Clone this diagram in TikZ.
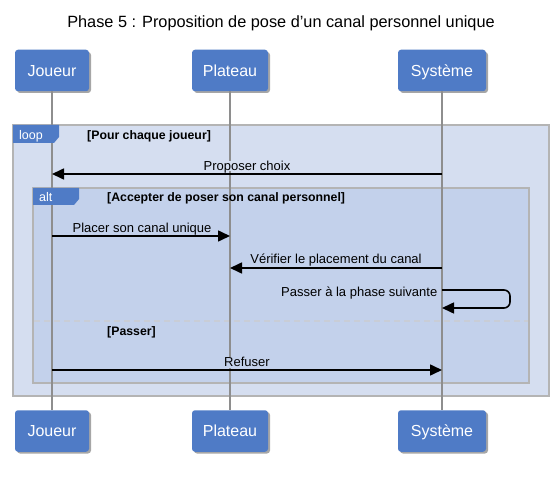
\documentclass[tikz,border=0pt]{standalone}
\usepackage{fontspec}
\setmainfont{Liberation Sans}
\usetikzlibrary{arrows.meta}
\definecolor{partblue}{HTML}{4F7BC6}
\definecolor{loopfill}{HTML}{D5DEF0}
\definecolor{altfill}{HTML}{C3D1EB}
\definecolor{framegray}{HTML}{B4B4B4}
\definecolor{lifegray}{HTML}{8E8E8E}
\definecolor{sepgray}{HTML}{C9CDD6}
\tikzset{
  part/.style={draw=none, fill=partblue, rounded corners=3pt, text=white,
    minimum height=41.5pt, inner sep=0pt, text height=11.5pt, text depth=0pt,
    font=\fontsize{16}{19}\selectfont},
  shadowbox/.style={fill=black, opacity=0.35, rounded corners=3pt},
  lifeline/.style={draw=lifegray, line width=1.5pt},
  frameline/.style={draw=framegray, line width=2pt},
  tab/.style={fill=partblue, draw=none},
  tabtext/.style={text=white, font=\fontsize{12.5}{15}\selectfont, anchor=base west, inner sep=0pt},
  guard/.style={font=\bfseries\fontsize{12.3}{15}\selectfont, anchor=base west, inner sep=0pt},
  msg/.style={draw=black, line width=1.6pt, -{Triangle[length=12pt,width=11pt]}},
  msglabel/.style={font=\fontsize{13}{15}\selectfont, inner xsep=1.5pt, inner ysep=0.5pt,
    text depth=0.5pt, anchor=base},
}
\begin{document}
\begin{tikzpicture}[x=1pt,y=-1pt]
\useasboundingbox (0,0) rectangle (559,478);
\fill[white] (0,0) rectangle (559,478);
% title
\node[anchor=base, inner sep=0pt] (title) at (281,27.7) {\fontsize{16.3}{19}\selectfont Phase 5 : Proposition de pose d'un canal personnel unique};
% frames
\filldraw[frameline, fill=loopfill] (13,125) rectangle (549,396);
\filldraw[frameline, fill=altfill] (33,188) rectangle (529,383);
\draw[sepgray, line width=1.2pt, dash pattern=on 6pt off 4pt] (34,321) -- (528,321);
% participant shadows
\foreach \x/\w in {52/74, 230/76, 442/88}{
  \fill[shadowbox] (\x-\w/2+2,52) rectangle (\x+\w/2+2,93);
  \fill[shadowbox] (\x-\w/2+2,412) rectangle (\x+\w/2+2,453.5);
}
% participants
\node[part, minimum width=74pt] (jT) at (52,70.5) {Joueur};
\node[part, minimum width=76pt] (pT) at (230,70.5) {Plateau};
\node[part, minimum width=88pt] (sT) at (442,70.5) {Système};
\node[part, minimum width=74pt] (jB) at (52,431) {Joueur};
\node[part, minimum width=76pt] (pB) at (230,431) {Plateau};
\node[part, minimum width=88pt] (sB) at (442,431) {Système};
% lifelines
\draw[lifeline] (jT.south) -- (jB.north);
\draw[lifeline] (pT.south) -- (pB.north);
\draw[lifeline] (sT.south) -- (sB.north);
% tabs and guards (above lifelines)
\fill[tab] (13,125) -- (59,125) -- (59,137) -- (54,143) -- (13,143) -- cycle;
\node[tabtext] (looplbl) at (19,139.5) {loop};
\node[guard] (loopguard) at (87,140) {[Pour chaque joueur]};
\fill[tab] (33,188) -- (79,188) -- (79,199) -- (74,205) -- (33,205) -- cycle;
\node[tabtext] (altlbl) at (39,201.5) {alt};
\node[guard] (altguard) at (107,202) {[Accepter de poser son canal personnel]};
\node[guard] (passguard) at (107,335) {[Passer]};
% message points
\coordinate (m1s) at (442,174); \coordinate (m1e) at (52,174);
\coordinate (m2s) at (52,236);  \coordinate (m2e) at (230,236);
\coordinate (m3s) at (442,268); \coordinate (m3e) at (230,268);
\coordinate (m4s) at (442,290); \coordinate (m4e) at (442,308);
\coordinate (m5s) at (52,370);  \coordinate (m5e) at (442,370);
% messages
\draw[msg] (m1s) -- (m1e);
\node[msglabel, fill=loopfill] (l1) at (247,170.5) {Proposer choix};
\draw[msg] (m2s) -- (m2e);
\node[msglabel] (l2) at (142,232.7) {Placer son canal unique};
\draw[msg] (m3s) -- (m3e);
\node[msglabel] (l3) at (336,263.5) {Vérifier le placement du canal};
\draw[msg, rounded corners=6pt] (m4s) -- (510,290) -- (510,308) -- (m4e);
\node[msglabel, anchor=base east] (l4) at (439,296) {Passer à la phase suivante};
\draw[msg] (m5s) -- (m5e);
\node[msglabel, fill=altfill] (l5) at (247,366.7) {Refuser};
\end{tikzpicture}
\end{document}
